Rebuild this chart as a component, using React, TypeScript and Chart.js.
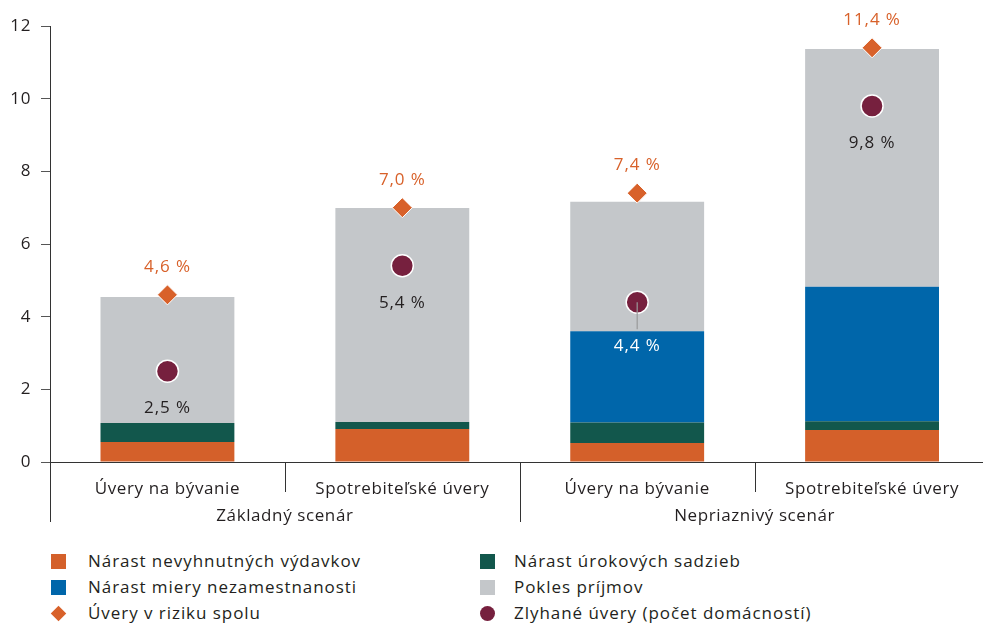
import React, { useEffect, useRef } from "react";
import { Chart, registerables } from "chart.js";

Chart.register(...registerables);

const categories = ["Úvery na bývanie", "Spotrebiteľské úvery", "Úvery na bývanie", "Spotrebiteľské úvery"];
const groups = ["Základný scenár", "Nepriaznivý scenár"];
const expenses = [0.55, 0.91, 0.52, 0.88];
const rates = [0.52, 0.19, 0.57, 0.24];
const unemployment = [0, 0, 2.51, 3.7];
const income = [3.47, 5.89, 3.56, 6.55];
const atRisk = [4.6, 7.0, 7.4, 11.4];
const defaulted = [2.5, 5.4, 4.4, 9.8];
const seriesNames = [
  "Nárast nevyhnutných výdavkov",
  "Nárast úrokových sadzieb",
  "Nárast miery nezamestnanosti",
  "Pokles príjmov",
  "Úvery v riziku spolu",
  "Zlyhané úvery (počet domácností)",
];
const colors = ["#d4602a", "#12574c", "#0066aa", "#c4c7ca", "#d8612a", "#76203e"];

const FONT = "'Open Sans', Lato, sans-serif";
const LS = "0.6px";
const LEGEND_LS = "0.95px";
const CANVAS_W = 1002;
const fmt = (v: number) => v.toFixed(1).replace(".", ",") + " %";

const spacingPlugin = {
  id: "spacing",
  beforeInit(chart: any) {
    chart.ctx.letterSpacing = LS;
  },
  beforeLayout(chart: any) {
    chart.ctx.letterSpacing = LS;
  },
  beforeDraw(chart: any) {
    chart.ctx.letterSpacing = LS;
  },
};

const labelPlugin = {
  id: "pointLabels",
  afterDatasetsDraw(chart: any) {
    const ctx = chart.ctx;
    const riskMeta = chart.getDatasetMeta(4);
    const defMeta = chart.getDatasetMeta(5);
    const blueMeta = chart.getDatasetMeta(2);
    ctx.save();
    ctx.letterSpacing = "0.9px";
    const p = defMeta.data[2];
    const blueTop = blueMeta.data[2].y;
    ctx.strokeStyle = "#9a9a9a";
    ctx.lineWidth = 1.2;
    ctx.beginPath();
    ctx.moveTo(p.x, p.y);
    ctx.lineTo(p.x, blueTop - 2);
    ctx.stroke();

    ctx.font = `17px ${FONT}`;
    ctx.textAlign = "center";
    ctx.textBaseline = "middle";
    riskMeta.data.forEach((pt: any, i: number) => {
      ctx.fillStyle = "#d8612a";
      ctx.fillText(fmt(atRisk[i]), pt.x, pt.y - 28);
    });
    defMeta.data.forEach((pt: any, i: number) => {
      const off = i === 2 ? 44 : 37;
      ctx.fillStyle = i === 2 ? "#ffffff" : "#231f20";
      ctx.fillText(fmt(defaulted[i]), pt.x, pt.y + off);
    });
    ctx.restore();
  },
};

const axisPlugin = {
  id: "axisGroups",
  afterDraw(chart: any) {
    const { ctx, chartArea } = chart;
    const bottom = chartArea.bottom;
    const x = chart.scales.x;
    const step = (x.right - x.left) / categories.length;
    ctx.save();
    ctx.letterSpacing = LS;
    ctx.strokeStyle = "#333";
    ctx.lineWidth = 1;
    for (let i = 0; i < categories.length; i++) {
      const xx = Math.round(x.left + i * step) + 0.5;
      const long = i % 2 === 0;
      ctx.beginPath();
      ctx.moveTo(xx, bottom);
      ctx.lineTo(xx, bottom + (long ? 60 : 30));
      ctx.stroke();
    }
    ctx.fillStyle = "#231f20";
    ctx.font = `17px ${FONT}`;
    ctx.textAlign = "center";
    ctx.textBaseline = "middle";
    groups.forEach((g, i) => {
      ctx.fillText(g, x.left + step * (2 * i + 1), bottom + 54);
    });
    ctx.restore();
  },
};

function LegendMarker({ kind, color }: { kind: string; color: string }) {
  if (kind === "square") {
    return <div style={{ width: 15, height: 15, background: color }} />;
  }
  if (kind === "diamond") {
    return (
      <div style={{ width: 15, height: 15, display: "flex", alignItems: "center", justifyContent: "center" }}>
        <div style={{ width: 11, height: 11, background: color, transform: "rotate(45deg)" }} />
      </div>
    );
  }
  return <div style={{ width: 15, height: 15, borderRadius: "50%", background: color }} />;
}

export default function App() {
  const canvasRef = useRef<HTMLCanvasElement | null>(null);

  useEffect(() => {
    if (!canvasRef.current) return;
    const chart = new Chart(canvasRef.current, {
      type: "bar",
      data: {
        labels: categories,
        datasets: [
          { label: seriesNames[0], data: expenses, backgroundColor: colors[0], stack: "bars", order: 2 },
          { label: seriesNames[1], data: rates, backgroundColor: colors[1], stack: "bars", order: 2 },
          { label: seriesNames[2], data: unemployment, backgroundColor: colors[2], stack: "bars", order: 2 },
          { label: seriesNames[3], data: income, backgroundColor: colors[3], stack: "bars", order: 2 },
          {
            type: "line",
            label: seriesNames[4],
            data: atRisk,
            stack: "risk",
            showLine: false,
            pointStyle: "rectRot",
            pointRadius: 10,
            pointHoverRadius: 10,
            pointBackgroundColor: colors[4],
            pointBorderColor: "#ffffff",
            pointBorderWidth: 1,
            order: 1,
          } as any,
          {
            type: "line",
            label: seriesNames[5],
            data: defaulted,
            stack: "def",
            showLine: false,
            pointStyle: "circle",
            pointRadius: 11,
            pointHoverRadius: 11,
            pointBackgroundColor: colors[5],
            pointBorderColor: "#ffffff",
            pointBorderWidth: 1.5,
            order: 0,
          } as any,
        ],
      },
      options: {
        animation: false,
        responsive: false,
        devicePixelRatio: 1,
        events: [],
        layout: { padding: { top: 26, right: 5, left: 0, bottom: 0 } },
        plugins: { legend: { display: false }, tooltip: { enabled: false } },
        datasets: { bar: { categoryPercentage: 1, barPercentage: 0.57 } },
        scales: {
          x: {
            stacked: true,
            grid: { display: false },
            border: { display: true, color: "#333", width: 1 },
            ticks: { color: "#231f20", font: { family: FONT, size: 17 }, padding: 9, maxRotation: 0, autoSkip: false },
            afterFit: (s: any) => {
              s.height = 68;
              s.paddingLeft = 0;
              s.paddingRight = 0;
            },
          },
          y: {
            stacked: true,
            min: 0,
            max: 12,
            ticks: { stepSize: 2, color: "#231f20", font: { family: FONT, size: 17 }, padding: 10 },
            grid: { drawOnChartArea: false, drawTicks: true, tickLength: 9, color: "#555" },
            border: { display: true, color: "#333", width: 1 },
            afterFit: (s: any) => {
              s.width = 50;
            },
          },
        },
      },
      plugins: [spacingPlugin, labelPlugin, axisPlugin],
    });
    return () => chart.destroy();
  }, []);

  const legendItems = [
    { name: seriesNames[0], kind: "square", color: colors[0], col: 0, row: 0 },
    { name: seriesNames[1], kind: "square", color: colors[1], col: 1, row: 0 },
    { name: seriesNames[2], kind: "square", color: colors[2], col: 0, row: 1 },
    { name: seriesNames[3], kind: "square", color: colors[3], col: 1, row: 1 },
    { name: seriesNames[4], kind: "diamond", color: colors[4], col: 0, row: 2 },
    { name: seriesNames[5], kind: "circle", color: colors[5], col: 1, row: 2 },
  ];
  const rowY = [561, 587, 613];
  const markerX = [58, 487];
  const textX = [88, 514];

  return (
    <div
      style={{
        position: "fixed",
        left: 0,
        top: 0,
        width: 983,
        height: 626,
        overflow: "hidden",
        background: "#ffffff",
        fontFamily: FONT,
      }}
    >
      <div style={{ position: "absolute", left: 0, top: 0, width: CANVAS_W, height: 530 }}>
        <canvas
          ref={canvasRef}
          width={CANVAS_W}
          height={530}
          style={{ display: "block", width: CANVAS_W, height: 530 }}
        />
      </div>
      {legendItems.map((it, i) => (
        <React.Fragment key={i}>
          <div style={{ position: "absolute", left: markerX[it.col] - 7.5, top: rowY[it.row] - 7.5 }}>
            <LegendMarker kind={it.kind} color={it.color} />
          </div>
          <div
            style={{
              position: "absolute",
              left: textX[it.col],
              top: rowY[it.row] - 12,
              height: 24,
              lineHeight: "24px",
              fontSize: 17,
              letterSpacing: LEGEND_LS,
              color: "#231f20",
              whiteSpace: "nowrap",
            }}
          >
            {it.name}
          </div>
        </React.Fragment>
      ))}
    </div>
  );
}
